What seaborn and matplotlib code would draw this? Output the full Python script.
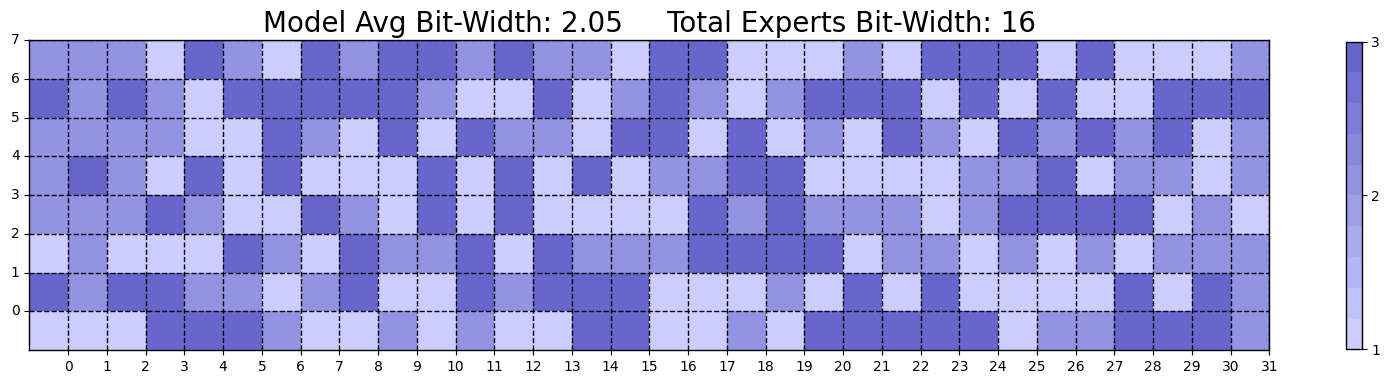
import numpy as np
import matplotlib
matplotlib.use("Agg")
import matplotlib.pyplot as plt
from matplotlib.colors import LinearSegmentedColormap
import seaborn as sns

# bit-width per expert, rows listed top to bottom as shown (layer 7 .. layer 0)
row_7 = [2, 2, 2, 1, 3, 2, 1, 3, 2, 3, 3, 2, 3, 2, 2, 1, 3, 3, 1, 1, 1, 2, 1, 3, 3, 3, 1, 3, 1, 1, 1, 2]
row_6 = [3, 2, 3, 2, 1, 3, 3, 3, 3, 3, 2, 1, 1, 3, 1, 2, 3, 2, 1, 2, 3, 3, 3, 1, 3, 1, 3, 1, 1, 3, 3, 3]
row_5 = [2, 2, 2, 2, 1, 1, 3, 2, 1, 3, 1, 3, 2, 2, 1, 3, 3, 1, 3, 1, 2, 1, 3, 2, 1, 3, 2, 3, 2, 3, 1, 2]
row_4 = [2, 3, 2, 1, 3, 1, 3, 1, 1, 1, 3, 1, 3, 1, 3, 1, 2, 2, 3, 3, 1, 1, 1, 1, 2, 2, 3, 1, 2, 2, 1, 2]
row_3 = [2, 2, 2, 3, 2, 1, 1, 3, 2, 1, 3, 1, 3, 1, 1, 1, 1, 3, 2, 3, 2, 2, 2, 1, 2, 3, 3, 3, 3, 1, 2, 1]
row_2 = [1, 2, 1, 1, 1, 3, 2, 1, 3, 2, 2, 3, 1, 3, 2, 2, 2, 3, 3, 3, 3, 1, 2, 2, 1, 2, 1, 2, 1, 2, 2, 2]
row_1 = [3, 2, 3, 3, 2, 2, 1, 2, 3, 1, 1, 3, 2, 3, 3, 3, 1, 1, 1, 2, 1, 3, 1, 3, 1, 1, 1, 1, 3, 1, 3, 2]
row_0 = [1, 1, 1, 3, 3, 3, 2, 1, 1, 2, 1, 2, 1, 1, 3, 3, 1, 1, 2, 1, 3, 3, 3, 3, 3, 1, 2, 2, 3, 3, 3, 2]

x_labels = [str(i) for i in range(32)]
y_labels = [str(i) for i in range(8)]
avg_bits = 2.05
total_bits = 16

data = np.array([row_7, row_6, row_5, row_4, row_3, row_2, row_1, row_0])

cmap = LinearSegmentedColormap.from_list("bits", ["#ccccff", "#6666cc"], N=10)

fig = plt.figure(figsize=(13.9, 3.84), dpi=100)
ax = fig.add_axes([0.0211, 0.0885, 0.8921, 0.807])
cax = fig.add_axes([0.9683, 0.0903, 0.0113, 0.8016])

sns.heatmap(data, cmap=cmap, vmin=1, vmax=3, ax=ax, cbar_ax=cax,
            cbar_kws={"ticks": [1, 2, 3]})

# ticks sit on the cell boundaries
n_rows, n_cols = data.shape
ax.set_xticks(np.arange(1, n_cols + 1))
ax.set_xticklabels(x_labels, rotation=0)
ax.set_yticks(np.arange(n_rows - 1, -1, -1))
ax.set_yticklabels(y_labels, rotation=0)
ax.tick_params(length=3.5, width=0.8, labelsize=10)

ax.grid(True, color="black", linestyle="--", linewidth=1)
for s in ax.spines.values():
    s.set_visible(True)
    s.set_color("black")
    s.set_linewidth(1)

cb = ax.collections[0].colorbar
cb.outline.set_visible(True)
cb.outline.set_linewidth(1)
cb.outline.set_edgecolor("black")
cb.ax.tick_params(length=3.5, width=0.8, labelsize=10)

ax.set_title(f"Model Avg Bit-Width: {avg_bits}     Total Experts Bit-Width: {total_bits}",
             fontsize=20)

fig.savefig("out.png", dpi=100)
